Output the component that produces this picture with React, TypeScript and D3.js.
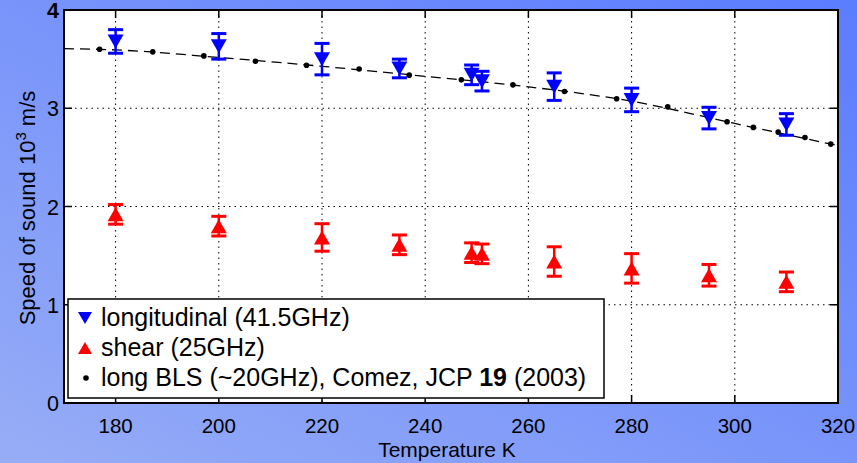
import React from "react";
import * as d3 from "d3";

// Temperatures (K) of the Brillouin measurements
const sampleTemps = [180, 200, 220, 235, 249, 251, 265, 280, 295, 310];
// Longitudinal sound speed (10^3 m/s) at 41.5 GHz, with error
const longSpeed = [3.68, 3.63, 3.5, 3.405, 3.34, 3.276, 3.22, 3.085, 2.9, 2.835];
const longErr = [0.12, 0.13, 0.16, 0.095, 0.1, 0.1, 0.14, 0.12, 0.11, 0.11];
// Shear sound speed (10^3 m/s) at 25 GHz, with error
const shearSpeed = [1.92, 1.8, 1.685, 1.61, 1.53, 1.518, 1.44, 1.37, 1.3, 1.233];
const shearErr = [0.1, 0.1, 0.14, 0.1, 0.1, 0.1, 0.15, 0.15, 0.11, 0.1];
// Literature BLS points (Comez, JCP 2003)
const blsTemps = [176.9, 187.2, 197.1, 207.1, 217.0, 227.2, 236.9, 247.0, 257.0, 267.0, 277.1, 287.0, 298.5, 303.6, 308.4, 313.6, 318.6];
const blsSpeed = [3.6, 3.574, 3.533, 3.479, 3.438, 3.4, 3.337, 3.289, 3.238, 3.171, 3.096, 3.014, 2.862, 2.805, 2.757, 2.703, 2.635];
// Smooth guide curve through the BLS data
const guideTemps = [170, 180, 200, 220, 240, 260, 280, 300, 320];
const guideSpeed = [3.607, 3.594, 3.517, 3.427, 3.325, 3.218, 3.072, 2.845, 2.62];

const xTicks = [180, 200, 220, 240, 260, 280, 300, 320];
const yTicks = [0, 1, 2, 3, 4];

const W = 857;
const H = 463;
const plot = { left: 64, top: 10, right: 838, bottom: 403 };
const FONT = "'Liberation Sans', Arial, Helvetica, sans-serif";
const BLUE = "#0000ff";
const RED = "#ff0000";

const x = d3.scaleLinear().domain([170, 320]).range([plot.left, plot.right]);
const y = d3.scaleLinear().domain([0, 4]).range([plot.bottom, plot.top]);

const triDown = (cx: number, cy: number, w = 16, h = 14) =>
  `M${cx - w / 2},${cy - h / 2}L${cx + w / 2},${cy - h / 2}L${cx},${cy + h / 2}Z`;
const triUp = (cx: number, cy: number, w = 16, h = 14) =>
  `M${cx - w / 2},${cy + h / 2}L${cx + w / 2},${cy + h / 2}L${cx},${cy - h / 2}Z`;

function ErrorBars({ values, errs, color }: { values: number[]; errs: number[]; color: string }) {
  const cap = 7.5;
  return (
    <g stroke={color} strokeWidth={2.5}>
      {sampleTemps.map((t, i) => {
        const cx = x(t);
        const y1 = y(values[i] + errs[i]);
        const y0 = y(values[i] - errs[i]);
        return (
          <g key={i}>
            <line x1={cx} x2={cx} y1={y1} y2={y0} />
            <line x1={cx - cap} x2={cx + cap} y1={y1} y2={y1} strokeWidth={3} />
            <line x1={cx - cap} x2={cx + cap} y1={y0} y2={y0} strokeWidth={3} />
          </g>
        );
      })}
    </g>
  );
}

export default function App() {
  const guideLine = d3
    .line<number>()
    .x((_, i) => x(guideTemps[i]))
    .y((v) => y(v))
    .curve(d3.curveMonotoneX)(guideSpeed) as string;

  const legend = { x: 68, y: 299, w: 536, h: 99 };

  return (
    <svg
      width={W}
      height={H}
      style={{ position: "fixed", left: 0, top: 0, display: "block" }}
      fontFamily={FONT}
    >
      <defs>
        <linearGradient id="bg" x1="0" y1="1" x2="1" y2="0">
          <stop offset="0" stopColor="#97adf6" />
          <stop offset="1" stopColor="#5a7cff" />
        </linearGradient>
        <clipPath id="plotClip">
          <rect x={plot.left} y={plot.top} width={plot.right - plot.left} height={plot.bottom - plot.top} />
        </clipPath>
      </defs>
      <rect x={0} y={0} width={W} height={H} fill="url(#bg)" />
      <rect
        x={plot.left}
        y={plot.top}
        width={plot.right - plot.left}
        height={plot.bottom - plot.top}
        fill="#ffffff"
      />

      {/* dotted grid */}
      <g stroke="#000" strokeWidth={1} strokeDasharray="1.5,4">
        {xTicks
          .filter((t) => t < 320)
          .map((t) => (
            <line key={`gx${t}`} x1={x(t)} x2={x(t)} y1={plot.top} y2={plot.bottom} />
          ))}
        {yTicks
          .filter((t) => t > 0 && t < 4)
          .map((t) => (
            <line key={`gy${t}`} x1={plot.left} x2={plot.right} y1={y(t)} y2={y(t)} />
          ))}
      </g>

      {/* inward ticks on all four sides */}
      <g stroke="#000" strokeWidth={1.5}>
        {xTicks.map((t) => (
          <g key={`tx${t}`}>
            <line x1={x(t)} x2={x(t)} y1={plot.bottom} y2={plot.bottom - 8} />
            <line x1={x(t)} x2={x(t)} y1={plot.top} y2={plot.top + 8} />
          </g>
        ))}
        {yTicks.map((t) => (
          <g key={`ty${t}`}>
            <line x1={plot.left} x2={plot.left + 8} y1={y(t)} y2={y(t)} />
            <line x1={plot.right} x2={plot.right - 8} y1={y(t)} y2={y(t)} />
          </g>
        ))}
      </g>

      <g clipPath="url(#plotClip)">
        {/* BLS guide curve and points */}
        <path d={guideLine} fill="none" stroke="#000" strokeWidth={1.3} strokeDasharray="10,6" />
        {blsTemps.map((t, i) => (
          <circle key={`b${i}`} cx={x(t)} cy={y(blsSpeed[i])} r={2.8} fill="#000" />
        ))}

        {/* longitudinal */}
        <ErrorBars values={longSpeed} errs={longErr} color={BLUE} />
        {sampleTemps.map((t, i) => (
          <path key={`l${i}`} d={triDown(x(t), y(longSpeed[i]))} fill={BLUE} />
        ))}

        {/* shear */}
        <ErrorBars values={shearSpeed} errs={shearErr} color={RED} />
        {sampleTemps.map((t, i) => (
          <path key={`s${i}`} d={triUp(x(t), y(shearSpeed[i]))} fill={RED} />
        ))}
      </g>

      {/* axes box */}
      <rect
        x={plot.left}
        y={plot.top}
        width={plot.right - plot.left}
        height={plot.bottom - plot.top}
        fill="none"
        stroke="#000"
        strokeWidth={2}
      />

      {/* tick labels */}
      <g fontSize={20.5} fill="#000">
        {xTicks.map((t) => (
          <text key={`lx${t}`} x={x(t)} y={433} textAnchor="middle">
            {t}
          </text>
        ))}
        {yTicks.map((t) => (
          <text
            key={`ly${t}`}
            x={59}
            y={y(t) + 8}
            textAnchor="end"
            fontSize={21.5}
            fontWeight={t === 4 ? "bold" : "normal"}
          >
            {t}
          </text>
        ))}
      </g>

      {/* axis labels */}
      <text x={447} y={457} textAnchor="middle" fontSize={21}>
        Temperature K
      </text>
      <text transform="translate(35,208) rotate(-90)" textAnchor="middle" fontSize={22}>
        Speed of sound 10
        <tspan fontSize={15} dy={-9}>
          3
        </tspan>
        <tspan dy={9}> m/s</tspan>
      </text>

      {/* legend */}
      <g>
        <rect
          x={legend.x}
          y={legend.y}
          width={legend.w}
          height={legend.h}
          fill="#ffffff"
          stroke="#000"
          strokeWidth={1.5}
        />
        <path d={triDown(85, 318, 14, 12)} fill={BLUE} />
        <path d={triUp(85, 348, 14, 12)} fill={RED} />
        <circle cx={86} cy={378} r={2.8} fill="#000" />
        <g fontSize={25} fill="#000">
          <text x={101} y={326}>longitudinal (41.5GHz)</text>
          <text x={101} y={356}>shear (25GHz)</text>
          <text x={101} y={386}>
            long BLS (~20GHz), Comez, JCP <tspan fontWeight="bold">19</tspan> (2003)
          </text>
        </g>
      </g>
    </svg>
  );
}
